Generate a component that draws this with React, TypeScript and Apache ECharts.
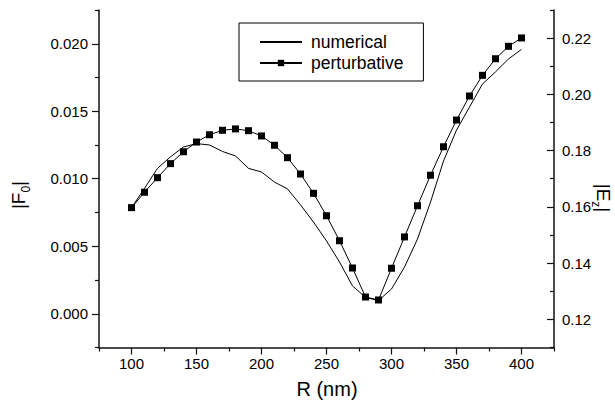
import React, { useEffect, useRef } from "react";
import * as echarts from "echarts";

const R_NM = [100, 110, 120, 130, 140, 150, 160, 170, 180, 190, 200, 210, 220, 230, 240, 250, 260, 270, 280, 290, 300, 310, 320, 330, 340, 350, 360, 370, 380, 390, 400];

// |Ez| numerical (right axis)
const NUMERICAL = [0.1597, 0.1666, 0.1737, 0.1778, 0.1813, 0.1825, 0.182, 0.1797, 0.1781, 0.1737, 0.1724, 0.1688, 0.1664, 0.1607, 0.1546, 0.1479, 0.1404, 0.1319, 0.1278, 0.1267, 0.1308, 0.1386, 0.1486, 0.1617, 0.1763, 0.1873, 0.1955, 0.2037, 0.208, 0.2126, 0.216];

// |F0| perturbative (left axis)
const PERTURBATIVE = [0.00786, 0.009, 0.01008, 0.01112, 0.012, 0.01272, 0.01326, 0.01359, 0.01369, 0.01356, 0.01317, 0.01248, 0.01156, 0.01035, 0.00892, 0.00726, 0.00541, 0.00339, 0.00124, 0.00102, 0.00337, 0.00569, 0.008, 0.01026, 0.01237, 0.01435, 0.01613, 0.01766, 0.01889, 0.01981, 0.02043];

const X_MAJOR = [100, 150, 200, 250, 300, 350, 400];
const X_MINOR = [75, 125, 175, 225, 275, 325, 375, 425];
const F_MAJOR = [0, 0.005, 0.01, 0.015, 0.02];
const F_MINOR = [-0.0025, 0.0025, 0.0075, 0.0125, 0.0175, 0.0225];
const E_MAJOR = [0.12, 0.14, 0.16, 0.18, 0.2, 0.22];
const E_MINOR = [0.11, 0.13, 0.15, 0.17, 0.19, 0.21, 0.23];

const FONT = "'Liberation Sans', Arial, sans-serif";
const AXIS_COLOR = "#111";

const titleRich = {
  m: { fontSize: 19, verticalAlign: "bottom", padding: [0, 0, 4, 0], fontFamily: FONT, fill: "#000" },
  s: { fontSize: 12, verticalAlign: "bottom", fontFamily: FONT, fill: "#000" },
};

export default function App() {
  const ref = useRef<HTMLDivElement>(null);

  useEffect(() => {
    if (!ref.current) return;
    const chart = echarts.init(ref.current, null, { renderer: "svg" });

    const baseAxis = {
      type: "value" as const,
      splitLine: { show: false },
    };

    const option: any = {
      animation: false,
      backgroundColor: "#fff",
      textStyle: { fontFamily: FONT },
      grid: { left: 99, right: 61, top: 10, bottom: 61.5, containLabel: false },
      legend: {
        data: [
          { name: "numerical", itemStyle: { opacity: 0 } },
          { name: "perturbative" },
        ],
        orient: "vertical",
        left: 239,
        top: 23,
        padding: [10, 20, 9, 20],
        itemGap: 3,
        itemWidth: 42,
        itemHeight: 8,
        borderColor: "#000",
        borderWidth: 1,
        backgroundColor: "#fff",
        textStyle: { fontFamily: FONT, fontSize: 17.5, lineHeight: 18, color: "#000", padding: [0, 0, 0, 4] },
      },
      xAxis: [
        {
          ...baseAxis,
          position: "bottom",
          min: 75,
          max: 425,
          axisLine: { show: true, onZero: false, lineStyle: { color: AXIS_COLOR, width: 1.5 } },
          axisTick: { show: true, inside: false, length: 7, customValues: X_MAJOR, lineStyle: { color: AXIS_COLOR, width: 1.2 } },
          axisLabel: { customValues: X_MAJOR, margin: 8, fontSize: 15, color: "#000", fontFamily: FONT },
        },
        {
          ...baseAxis,
          position: "bottom",
          min: 75,
          max: 425,
          axisLine: { show: false, onZero: false },
          axisTick: { show: true, inside: false, length: 4, customValues: X_MINOR, lineStyle: { color: AXIS_COLOR, width: 1.2 } },
          axisLabel: { show: false },
        },
      ],
      yAxis: [
        {
          ...baseAxis,
          position: "left",
          min: -0.0025,
          max: 0.0225,
          axisLine: { show: true, onZero: false, lineStyle: { color: AXIS_COLOR, width: 1.5 } },
          axisTick: { show: true, inside: false, length: 7, customValues: F_MAJOR, lineStyle: { color: AXIS_COLOR, width: 1.2 } },
          axisLabel: {
            customValues: F_MAJOR,
            margin: 11,
            fontSize: 15,
            color: "#000",
            fontFamily: FONT,
            formatter: (v: number) => v.toFixed(3),
          },
        },
        {
          ...baseAxis,
          position: "right",
          min: 0.11,
          max: 0.23,
          axisLine: { show: true, onZero: false, lineStyle: { color: AXIS_COLOR, width: 1.5 } },
          axisTick: { show: true, inside: true, length: 7, customValues: E_MAJOR, lineStyle: { color: AXIS_COLOR, width: 1.2 } },
          axisLabel: {
            customValues: E_MAJOR,
            margin: 8,
            fontSize: 15,
            color: "#000",
            fontFamily: FONT,
            formatter: (v: number) => v.toFixed(2),
          },
        },
        {
          ...baseAxis,
          position: "left",
          min: -0.0025,
          max: 0.0225,
          axisLine: { show: false, onZero: false },
          axisTick: { show: true, inside: false, length: 4, customValues: F_MINOR, lineStyle: { color: AXIS_COLOR, width: 1.2 } },
          axisLabel: { show: false },
        },
        {
          ...baseAxis,
          position: "right",
          min: 0.11,
          max: 0.23,
          axisLine: { show: false, onZero: false },
          axisTick: { show: true, inside: true, length: 4, customValues: E_MINOR, lineStyle: { color: AXIS_COLOR, width: 1.2 } },
          axisLabel: { show: false },
        },
      ],
      series: [
        {
          name: "numerical",
          type: "line",
          xAxisIndex: 0,
          yAxisIndex: 1,
          data: R_NM.map((r, i) => [r, NUMERICAL[i]]),
          symbol: "none",
          lineStyle: { color: "#000", width: 1 },
          itemStyle: { color: "#000" },
        },
        {
          name: "perturbative",
          type: "line",
          xAxisIndex: 0,
          yAxisIndex: 0,
          data: R_NM.map((r, i) => [r, PERTURBATIVE[i]]),
          symbol: "rect",
          symbolSize: 7,
          lineStyle: { color: "#000", width: 1 },
          itemStyle: { color: "#000" },
        },
      ],
      graphic: [
        {
          type: "text",
          x: 20,
          y: 195,
          rotation: Math.PI / 2,
          style: {
            text: "{m||F}{s|0}{m||}",
            align: "center",
            verticalAlign: "middle",
            fill: "#000",
            fontFamily: FONT,
            rich: titleRich,
          },
        },
        {
          type: "text",
          x: 601,
          y: 198,
          rotation: -Math.PI / 2,
          style: {
            text: "{m||E}{s|z}{m||}",
            align: "center",
            verticalAlign: "middle",
            fill: "#000",
            fontFamily: FONT,
            rich: titleRich,
          },
        },
        {
          type: "text",
          x: 327,
          y: 389,
          style: {
            text: "R (nm)",
            align: "center",
            verticalAlign: "middle",
            fontSize: 20,
            fontFamily: FONT,
            fill: "#000",
          },
        },
      ],
    };

    chart.setOption(option);
    return () => chart.dispose();
  }, []);

  return (
    <div
      ref={ref}
      style={{ position: "absolute", left: 0, top: 0, width: 615, height: 409 }}
    />
  );
}
